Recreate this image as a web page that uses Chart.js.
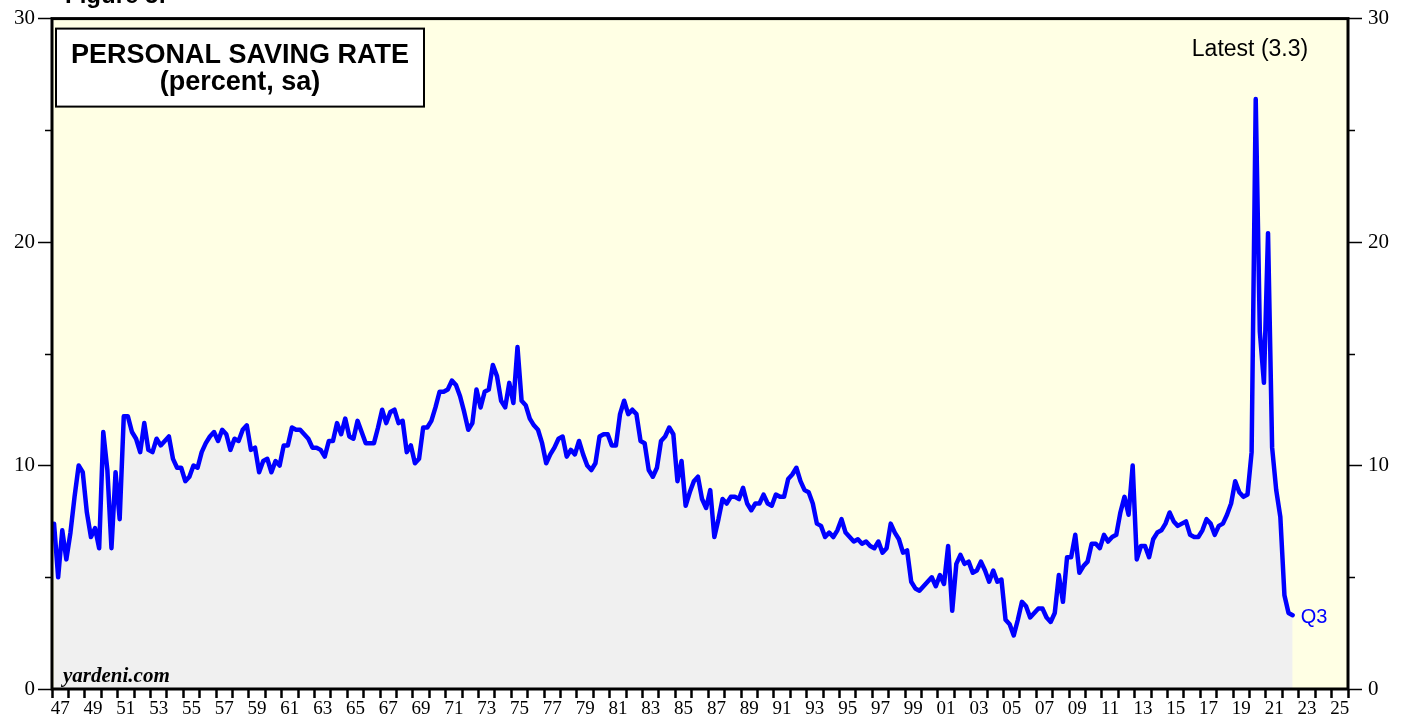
<!DOCTYPE html>
<html>
<head>
<meta charset="utf-8">
<title>Personal Saving Rate</title>
<script src="https://cdn.jsdelivr.net/npm/chart.js@4.4.1/dist/chart.umd.min.js"></script>
<style>
  html, body { margin: 0; padding: 0; background: #fff; }
  #wrap { width: 1407px; height: 721px; position: relative; }
</style>
</head>
<body>
<div id="wrap"><canvas id="chart"></canvas></div>
<script>
// personal saving rate, percent, sa -- quarterly, Q1..Q4 per year
const firstYear = 1947;
const rate1940s = [
  7.4, 5.0, 7.1, 5.8,   7.0, 8.6, 10.0, 9.7,   7.9, 6.8, 7.2, 6.3
];
const rate1950s = [
  11.5, 9.8, 6.3, 9.7,   7.6, 12.2, 12.2, 11.5,   11.2, 10.6, 11.9, 10.7,
  10.6, 11.2, 10.9, 11.1,   11.3, 10.3, 9.9, 9.9,   9.3, 9.5, 10.0, 9.9,
  10.6, 11.0, 11.3, 11.5,   11.1, 11.6, 11.4, 10.7,   11.2, 11.1, 11.6, 11.8,
  10.7, 10.8, 9.7, 10.2
];
const rate1960s = [
  10.3, 9.7, 10.2, 10.0,   10.9, 10.9, 11.7, 11.6,   11.6, 11.4, 11.2, 10.8,
  10.8, 10.7, 10.4, 11.1,   11.1, 11.9, 11.4, 12.1,   11.3, 11.2, 12.0, 11.5,
  11.0, 11.0, 11.0, 11.7,   12.5, 11.9, 12.4, 12.5,   11.9, 12.0, 10.6, 10.9,
  10.1, 10.3, 11.7, 11.7
];
const rate1970s = [
  12.0, 12.6, 13.3, 13.3,   13.4, 13.8, 13.6, 13.1,   12.4, 11.6, 11.9, 13.4,
  12.6, 13.3, 13.4, 14.5,   14.0, 12.9, 12.6, 13.7,   12.8, 15.3, 12.9, 12.7,
  12.1, 11.8, 11.6, 11.0,   10.1, 10.5, 10.8, 11.2,   11.3, 10.4, 10.7, 10.5,
  11.1, 10.5, 10.0, 9.8
];
const rate1980s = [
  10.1, 11.3, 11.4, 11.4,   10.9, 10.9, 12.3, 12.9,   12.3, 12.5, 12.3, 11.1,
  11.0, 9.8, 9.5, 9.9,   11.1, 11.3, 11.7, 11.4,   9.3, 10.2, 8.2, 8.8,
  9.3, 9.5, 8.5, 8.1,   8.9, 6.8, 7.6, 8.5,   8.3, 8.6, 8.6, 8.5,
  9.0, 8.3, 8.0, 8.3
];
const rate1990s = [
  8.3, 8.7, 8.3, 8.2,   8.7, 8.6, 8.6, 9.4,   9.6, 9.9, 9.3, 8.9,
  8.8, 8.3, 7.4, 7.3,   6.8, 7.0, 6.8, 7.1,   7.6, 7.0, 6.8, 6.6,
  6.7, 6.5, 6.6, 6.4,   6.3, 6.6, 6.1, 6.3,   7.4, 7.0, 6.7, 6.1,
  6.2, 4.8, 4.5, 4.4
];
const rate2000s = [
  4.6, 4.8, 5.0, 4.6,   5.1, 4.7, 6.4, 3.5,   5.6, 6.0, 5.6, 5.7,
  5.2, 5.3, 5.7, 5.3,   4.8, 5.3, 4.8, 4.9,   3.1, 2.9, 2.4, 3.1,
  3.9, 3.7, 3.2, 3.4,   3.6, 3.6, 3.2, 3.0,   3.4, 5.1, 3.9, 5.9,
  5.9, 6.9, 5.2, 5.5
];
const rate2010s = [
  5.7, 6.5, 6.5, 6.3,   6.9, 6.6, 6.8, 6.9,   7.9, 8.6, 7.8, 10.0,
  5.8, 6.4, 6.4, 5.9,   6.7, 7.0, 7.1, 7.4,   7.9, 7.5, 7.3, 7.4,
  7.5, 6.9, 6.8, 6.8,   7.1, 7.6, 7.4, 6.9,   7.3, 7.4, 7.8, 8.3,
  9.3, 8.8, 8.6, 8.7
];
const rate2020s = [
  10.6, 26.4, 16.0, 13.7,   20.4, 10.8, 8.9, 7.7,   4.2, 3.4, 3.3
];

const xTickLabels = ['47', '49', '51', '53', '55', '57', '59', '61', '63', '65',
  '67', '69', '71', '73', '75', '77', '79', '81', '83', '85',
  '87', '89', '91', '93', '95', '97', '99', '01', '03', '05',
  '07', '09', '11', '13', '15', '17', '19', '21', '23', '25'];
const yTickLabels = ['0', '10', '20', '30'];
const titleLines = ['PERSONAL SAVING RATE', '(percent, sa)'];
const latestText = 'Latest (3.3)';
const lastQuarterText = 'Q3';
const sourceText = 'yardeni.com';
const figureText = 'Figure 5:';

const rates = [].concat(rate1940s, rate1950s, rate1960s, rate1970s,
  rate1980s, rate1990s, rate2000s, rate2010s, rate2020s);
const points = rates.map((v, i) => ({ x: firstYear + (i + 0.5) / 4, y: v }));
const lastYear = firstYear + xTickLabels.length * 2 - 1;

const SERIF = '"Liberation Serif", "Times New Roman", serif';
const SANS = '"Liberation Sans", Arial, sans-serif';

// yellow plot background, frame, minor y ticks and the text boxes
const decor = {
  id: 'decor',
  beforeDraw(chart) {
    const { ctx, chartArea: a } = chart;
    ctx.save();
    ctx.fillStyle = '#ffffe4';
    ctx.fillRect(a.left, a.top, a.right - a.left, a.bottom - a.top);
    ctx.restore();
  },
  afterDraw(chart) {
    const { ctx, chartArea: a } = chart;
    ctx.save();

    // minor ticks at 5, 15, 25
    const ys = chart.scales.y;
    ctx.strokeStyle = '#000';
    ctx.lineWidth = 1.5;
    ys.ticks.forEach(t => {
      if (t.value % 10 === 0) return;
      const py = Math.round(ys.getPixelForValue(t.value)) + 0.5;
      ctx.beginPath();
      ctx.moveTo(a.left - 7, py); ctx.lineTo(a.left, py);
      ctx.moveTo(a.right, py); ctx.lineTo(a.right + 7, py);
      ctx.stroke();
    });

    // frame
    ctx.lineWidth = 3;
    ctx.strokeRect(a.left, a.top, a.right - a.left, a.bottom - a.top);

    // title box
    ctx.fillStyle = '#fff';
    ctx.fillRect(a.left + 4, a.top + 10, 368, 78);
    ctx.lineWidth = 2;
    ctx.strokeRect(a.left + 4, a.top + 10, 368, 78);
    ctx.fillStyle = '#000';
    ctx.textAlign = 'center';
    ctx.textBaseline = 'alphabetic';
    ctx.font = 'bold 27px ' + SANS;
    ctx.fillText(titleLines[0], a.left + 188, a.top + 44);
    ctx.fillText(titleLines[1], a.left + 188, a.top + 71);

    ctx.font = '23px ' + SANS;
    ctx.fillText(latestText, a.right - 98, a.top + 37);

    ctx.textAlign = 'left';
    ctx.font = 'italic bold 21px ' + SERIF;
    ctx.fillText(sourceText, a.left + 11, a.bottom - 7);

    ctx.font = 'bold 24px ' + SANS;
    ctx.fillText(figureText, 65, 3);

    // label at the last point
    const meta = chart.getDatasetMeta(0);
    const last = meta.data[meta.data.length - 1];
    ctx.fillStyle = '#0000ff';
    ctx.font = '20px ' + SANS;
    ctx.fillText(lastQuarterText, last.x + 8, last.y + 8);

    ctx.restore();
  }
};

function yTicks(side) {
  return {
    type: 'linear',
    position: side,
    min: 0,
    max: 30,
    border: { display: false },
    grid: {
      drawOnChartArea: false,
      tickLength: 14,
      tickWidth: 1.5,
      tickColor: c => (c.tick && c.tick.value % 10 === 0) ? '#000' : 'rgba(0,0,0,0)'
    },
    ticks: {
      stepSize: 5,
      color: '#000',
      padding: side === 'left' ? 3 : 6,
      font: { family: SERIF, size: 21 },
      callback: v => v % 10 === 0 ? yTickLabels[v / 10] : ''
    },
    afterFit: s => { s.width = side === 'left' ? 52 : 59; }
  };
}

new Chart(document.getElementById('chart'), {
  type: 'line',
  data: {
    datasets: [{
      data: points,
      borderColor: '#0000ff',
      borderWidth: 4.5,
      backgroundColor: '#f0f0f0',
      fill: 'origin',
      pointRadius: 0,
      borderJoinStyle: 'round',
      borderCapStyle: 'round',
      tension: 0
    }]
  },
  options: {
    responsive: true,
    maintainAspectRatio: false,
    devicePixelRatio: 1,
    animation: false,
    layout: { padding: { top: 16, left: 0, right: 0, bottom: 0 } },
    plugins: { legend: { display: false }, tooltip: { enabled: false } },
    scales: {
      x: {
        type: 'linear',
        min: firstYear,
        max: lastYear,
        border: { display: false },
        grid: {
          drawOnChartArea: false,
          tickLength: 9,
          tickWidth: 2.5,
          tickColor: c => (c.tick && Number.isInteger(c.tick.value)) ? '#000' : 'rgba(0,0,0,0)'
        },
        ticks: {
          autoSkip: false,
          maxRotation: 0,
          minRotation: 0,
          padding: 0,
          color: '#000',
          font: { family: SERIF, size: 19 },
          callback: v => Number.isInteger(v) ? '' : xTickLabels[Math.round((v - firstYear - 0.5) / 2)]
        },
        afterBuildTicks: s => {
          const ticks = [];
          for (let yr = firstYear; yr <= lastYear; yr++) ticks.push({ value: yr });
          xTickLabels.forEach((l, i) => ticks.push({ value: firstYear + 2 * i + 0.5 }));
          s.ticks = ticks.sort((a, b) => a.value - b.value);
        },
        afterFit: s => { s.height = 32; }
      },
      y: yTicks('left'),
      y2: yTicks('right')
    }
  },
  plugins: [decor]
});
</script>
</body>
</html>
